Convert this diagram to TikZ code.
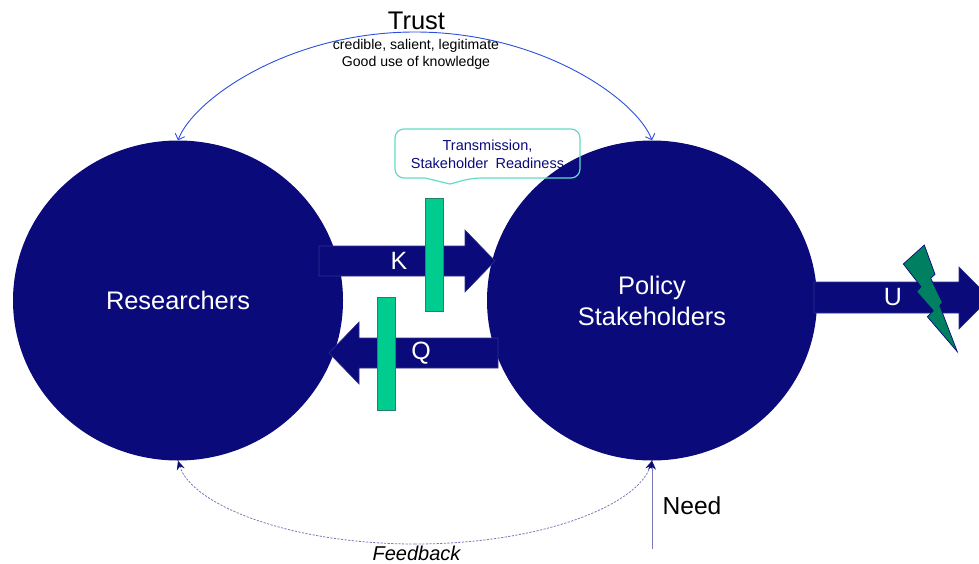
\documentclass[tikz,border=0pt]{standalone}
\usepackage{fontspec}
\setmainfont{Liberation Sans}
\usetikzlibrary{shapes.geometric,arrows.meta}
\definecolor{navy}{HTML}{0A0A7A}
\definecolor{barg}{HTML}{00CC90}
\definecolor{boltg}{HTML}{008060}
\definecolor{teal}{HTML}{5FDDC4}
\definecolor{arcblue}{HTML}{2A50DC}
\definecolor{needc}{HTML}{7A7AB8}
\newcommand{\fs}[1]{\fontsize{#1}{#1}\selectfont}
\tikzset{
  x=1pt,y=-1pt,
  circ/.style={ellipse,fill=navy,minimum width=330pt,minimum height=320pt,inner sep=0pt,text=white,align=center,font=\fs{25.4}},
  fat/.style={fill=navy,draw=navy!85!white,line width=.6pt},
  fatlabel/.style={text=white,font=\fs{25},inner sep=0pt},
  barbox/.style={fill=barg,draw=boltg!70!gray,line width=.7pt},
  tip/.style={-{Stealth[length=9pt,width=8pt,fill=navy,color=navy]}},
  opentip/.style={{Straight Barb[length=5pt,width=10pt]}-{Straight Barb[length=5pt,width=10pt]}},
  plain/.style={text=black,inner sep=0pt,align=center},
}
\begin{document}
\begin{tikzpicture}
\clip (0,0) rectangle (979,563);
\useasboundingbox (0,0) rectangle (979,563);
\node[circ] (res) at (178,300.5) {Researchers};
\node[circ,align=center] (pol) at (652,300.5) {Policy\\[5.5pt]Stakeholders};

% block arrows
\draw[fat] (319,246) -- (465,246) -- (465,230) -- (495,261) -- (465,292) -- (465,276) -- (319,276) -- cycle;
\draw[fat] (498,338) -- (359,338) -- (359,322) -- (329,353) -- (359,384) -- (359,368) -- (498,368) -- cycle;
\draw[fat] (814,282) -- (959,282) -- (959,267) -- (990,298) -- (959,329) -- (959,313) -- (814,313) -- cycle;
\node[fatlabel] (k) at (399,261) {K};
\node[fatlabel] (q) at (421,353) {Q};
\node[fatlabel] (u) at (893,297) {U};

% bars
\draw[barbox] (425,198) rectangle (443,311);
\draw[barbox] (377,297) rectangle (395,410);

% bolt
\draw[fill=boltg,draw=navy,line width=.7pt]
  (924.3,245) -- (935,274.3) -- (930.7,278.3) -- (942.3,302.3) -- (939.7,305.7) -- (957.3,351.7)
  -- (927.3,316.7) -- (933.3,310.7) -- (916.7,291.7) -- (921,286.7) -- (903.3,264) -- cycle;

% callout
\draw[teal,line width=1.2pt,rounded corners=9pt]
  (395,129) -- (580,129) -- (580,178) -- (472,178) [sharp corners] -- (450,184) -- (425,178) [rounded corners=9pt] -- (395,178) -- cycle;
\node[plain,text=navy,font=\fs{14.5},text width=185pt] (cal) at (487.5,154.5) {Transmission,\\[3pt]Stakeholder\, Readiness};

% connectors
\draw[arcblue,line width=.9pt,opentip] (res.north) .. controls (193,100) and (288,32) .. (415,32) .. controls (542,32) and (637,100) .. (pol.north);
\coordinate (needs) at (652,549);
\draw[needc,line width=.8pt,dash pattern=on 2.2pt off 1.4pt,tip] (415,544) .. controls (542,544) and (638,505) .. (pol.south);
\draw[needc,line width=.8pt,dash pattern=on 2.2pt off 1.4pt,tip] (415,544) .. controls (290,544) and (192,505) .. (res.south);
\draw[needc,line width=.9pt,tip] (needs) -- (pol.south);

% labels
\node[plain,font=\fs{25.5}] (trust) at (416.5,21) {Trust};
\node[plain,font=\fs{14.1}] (cred) at (416,46) {credible, salient, legitimate};
\node[plain,font=\fs{14.1}] (good) at (416,63) {Good use of knowledge};
\node[plain,font=\fs{24.6}] (need) at (692,506) {Need};
\node[plain,font=\fs{20}\itshape] (fb) at (416.5,553.5) {Feedback};
\end{tikzpicture}
\end{document}
